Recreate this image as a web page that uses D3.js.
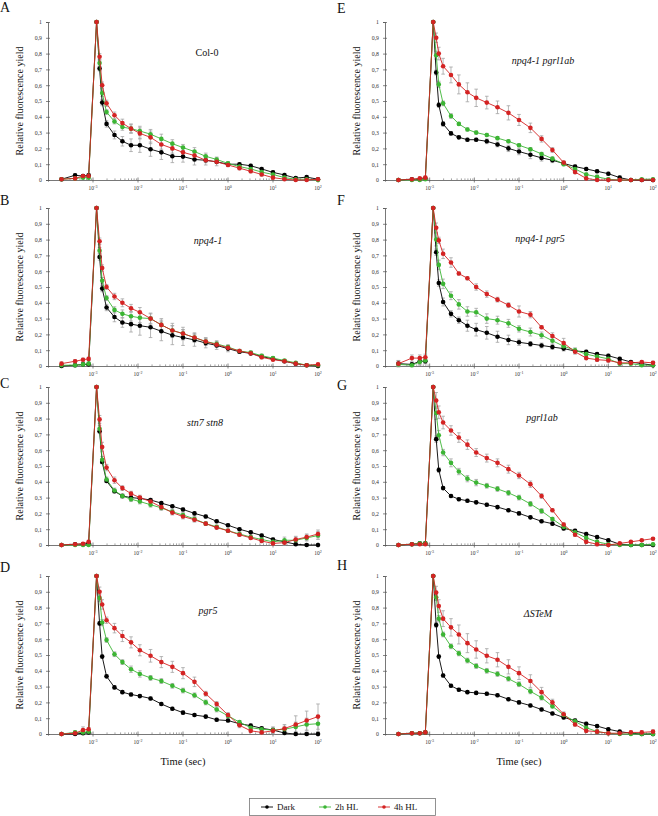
<!DOCTYPE html>
<html>
<head>
<meta charset="utf-8">
<script src="https://cdn.jsdelivr.net/npm/d3@7"></script>
<style>
  body { margin: 0; background: #fff; }
  svg { display: block; }
  svg text { font-family: "Liberation Serif", "Times New Roman", serif; }
</style>
</head>
<body>
<svg id="chart" width="658" height="816"></svg>
<script>
// time points (sec), shared by every panel
const times = [0.0002, 0.0004, 0.0006, 0.0008, 0.0012, 0.0014, 0.0016, 0.002, 0.003, 0.0045,
  0.007, 0.011, 0.019, 0.033, 0.058, 0.1, 0.18, 0.32, 0.56, 1, 1.8, 3.2, 5.6, 10, 18, 32, 56, 100];
const yTicks = [0, 0.1, 0.2, 0.3, 0.4, 0.5, 0.6, 0.7, 0.8, 0.9, 1];
const xTickExponents = [-3, -2, -1, 0, 1, 2];
const seriesNames = ["Dark", "2h HL", "4h HL"];

// A  Col-0
const colDark = [0.005,0.03,0.025,0.03,1, 0.705,0.49,0.355,0.285,0.245,0.22,0.22,0.195,0.175,0.15,0.148,0.13,0.125,0.115,0.1,0.1,0.09,0.07,0.048,0.032,0.012,0.018,0.005];
const colHL2 = [0.005,0.01,0.015,0.015,1, 0.74,0.55,0.43,0.37,0.335,0.325,0.31,0.29,0.26,0.23,0.205,0.18,0.15,0.13,0.105,0.085,0.07,0.05,0.035,0.015,0.005,0.005,0];
const colHL4 = [0.005,0.01,0.025,0.025,1, 0.78,0.6,0.485,0.41,0.36,0.325,0.295,0.27,0.225,0.2,0.175,0.155,0.125,0.115,0.095,0.075,0.055,0.035,0.015,0.005,0,0,0.005];
const colDarkErr = [0.01,0.01,0.01,0.01,0, 0.015,0.02,0.02,0.025,0.03,0.04,0.045,0.045,0.045,0.04,0.035,0.035,0.03,0.025,0.015,0.01,0.01,0.01,0.01,0.01,0.01,0.01,0];
const colHL2Err = [0,0,0,0,0, 0.02,0.02,0.015,0.015,0.02,0.025,0.03,0.03,0.03,0.025,0.02,0.025,0.02,0.015,0.01,0.01,0.01,0.01,0.01,0.005,0.005,0,0];
const colHL4Err = [0,0,0,0,0, 0.02,0.02,0.02,0.02,0.025,0.03,0.035,0.04,0.03,0.03,0.025,0.02,0.015,0.01,0.01,0.01,0.01,0.01,0.005,0.005,0,0,0];

// B  npq4-1
const npqDark = [0,0.005,0.01,0.01,1, 0.69,0.49,0.37,0.31,0.275,0.265,0.255,0.245,0.22,0.195,0.18,0.165,0.145,0.13,0.11,0.09,0.08,0.06,0.045,0.03,0.015,0.005,0];
const npqHL2 = [0.005,0.005,0.01,0.015,1, 0.73,0.54,0.43,0.355,0.33,0.315,0.305,0.3,0.26,0.225,0.205,0.18,0.155,0.14,0.12,0.095,0.085,0.065,0.05,0.035,0.02,0.005,0.005];
const npqHL4 = [0.015,0.03,0.04,0.045,1, 0.79,0.62,0.5,0.44,0.4,0.365,0.34,0.3,0.26,0.225,0.205,0.18,0.155,0.135,0.115,0.095,0.08,0.055,0.04,0.03,0.015,0.005,0.01];
const npqDarkErr = [0.01,0.01,0.01,0.01,0, 0.02,0.02,0.02,0.03,0.03,0.05,0.06,0.065,0.06,0.06,0.05,0.04,0.03,0.025,0.02,0.01,0.01,0.01,0.01,0.01,0.005,0,0];
const npqHL2Err = [0.005,0.005,0.01,0.01,0, 0.02,0.02,0.015,0.02,0.025,0.03,0.03,0.035,0.04,0.045,0.04,0.03,0.025,0.02,0.015,0.01,0.01,0.01,0.01,0.005,0.005,0,0];
const npqHL4Err = [0.01,0.01,0.01,0.01,0, 0.02,0.02,0.015,0.02,0.025,0.025,0.03,0.03,0.03,0.03,0.025,0.02,0.015,0.01,0.01,0.01,0.01,0.01,0.005,0.005,0,0,0];

// C  stn7 stn8
const stnDark = [0,0.005,0.005,0.01,1, 0.72,0.525,0.405,0.34,0.31,0.3,0.295,0.285,0.265,0.245,0.225,0.2,0.18,0.15,0.125,0.1,0.08,0.06,0.035,0.02,0.005,0,0];
const stnHL2 = [0,0,0,0,1, 0.735,0.54,0.415,0.345,0.31,0.29,0.275,0.255,0.235,0.21,0.19,0.165,0.135,0.115,0.09,0.07,0.05,0.035,0.02,0.03,0.03,0.045,0.06];
const stnHL4 = [0,0.005,0.008,0.02,1, 0.795,0.62,0.49,0.41,0.36,0.325,0.3,0.275,0.24,0.205,0.18,0.16,0.135,0.11,0.09,0.065,0.045,0.025,0.01,0.015,0.035,0.05,0.07];
const stnDarkErr = [0,0.005,0.005,0.005,0, 0.015,0.01,0.01,0.01,0.01,0.01,0.01,0.01,0.01,0.01,0.01,0.01,0.01,0.01,0.01,0.01,0.01,0.01,0.01,0.005,0.005,0,0];
const stnHL2Err = [0,0,0,0,0, 0.02,0.02,0.015,0.015,0.015,0.015,0.015,0.015,0.015,0.015,0.015,0.015,0.01,0.01,0.01,0.01,0.01,0.01,0.01,0.02,0.02,0.02,0.025];
const stnHL4Err = [0,0.005,0.005,0.01,0, 0.025,0.03,0.02,0.02,0.015,0.015,0.015,0.015,0.015,0.015,0.015,0.015,0.01,0.01,0.01,0.01,0.01,0.01,0.01,0.015,0.02,0.02,0.025];

// D  pgr5
const pgrDark = [0,0,0.005,0.01,1, 0.7,0.49,0.365,0.295,0.265,0.25,0.24,0.225,0.19,0.16,0.135,0.12,0.11,0.09,0.085,0.065,0.053,0.036,0.025,0.006,0,0,0];
const pgrHL2 = [0,0.01,0.01,0.015,1, 0.86,0.705,0.595,0.505,0.455,0.41,0.38,0.355,0.335,0.305,0.275,0.245,0.2,0.155,0.115,0.075,0.04,0.03,0.025,0.03,0.045,0.06,0.065];
const pgrHL4 = [0,0.005,0.025,0.03,1, 0.9,0.82,0.72,0.67,0.62,0.58,0.53,0.495,0.455,0.425,0.385,0.33,0.255,0.19,0.12,0.055,0.02,0.01,0.02,0.035,0.06,0.085,0.11];
const pgrDarkErr = [0,0,0.005,0.005,0, 0.01,0.01,0.01,0.01,0.01,0.01,0.01,0.01,0.01,0.01,0.01,0.01,0.01,0.01,0.01,0.01,0.01,0.01,0.01,0.01,0.01,0.01,0.01];
const pgrHL2Err = [0,0.01,0.01,0.01,0, 0.02,0.02,0.015,0.015,0.015,0.02,0.02,0.015,0.015,0.015,0.015,0.015,0.015,0.015,0.01,0.01,0.01,0.01,0.02,0.02,0.03,0.04,0.05];
const pgrHL4Err = [0,0.01,0.02,0.01,0, 0.03,0.03,0.02,0.03,0.035,0.035,0.035,0.04,0.035,0.035,0.035,0.03,0.015,0.015,0.015,0.015,0.01,0.01,0.02,0.025,0.055,0.06,0.08];

// E  npq4-1 pgrl1ab
const npqPgrlDark = [0,0.005,0.005,0.01,1, 0.68,0.475,0.355,0.295,0.27,0.255,0.255,0.245,0.225,0.2,0.18,0.16,0.14,0.125,0.105,0.085,0.07,0.055,0.04,0.015,0,0,0];
const npqPgrlHL2 = [0,0,0,0.005,1, 0.79,0.605,0.485,0.405,0.355,0.32,0.3,0.285,0.265,0.245,0.22,0.195,0.165,0.135,0.1,0.07,0.035,0.02,0.005,0,0,0.005,0.005];
const npqPgrlHL4 = [0,0.005,0.01,0.015,1, 0.9,0.8,0.72,0.665,0.605,0.555,0.52,0.49,0.46,0.425,0.38,0.33,0.26,0.19,0.11,0.05,0.01,0,0,0,0,0,0];
const npqPgrlDarkErr = [0,0,0.005,0.005,0, 0.015,0.015,0.015,0.01,0.01,0.01,0.01,0.015,0.015,0.02,0.02,0.025,0.02,0.015,0.01,0.01,0.01,0.01,0.01,0.01,0.005,0,0];
const npqPgrlHL2Err = [0,0,0,0,0, 0.025,0.02,0.015,0.015,0.01,0.01,0.01,0.01,0.01,0.01,0.01,0.01,0.01,0.01,0.01,0.01,0.01,0.01,0.01,0.005,0,0,0.005];
const npqPgrlHL4Err = [0,0.005,0.005,0.01,0, 0.03,0.04,0.05,0.05,0.06,0.06,0.055,0.04,0.04,0.045,0.035,0.03,0.02,0.015,0.01,0.01,0.005,0,0,0,0,0,0];

// F  npq4-1 pgr5
const npqPgrDark = [0.015,0.01,0.03,0.03,1, 0.72,0.525,0.405,0.33,0.29,0.255,0.23,0.21,0.185,0.165,0.15,0.14,0.13,0.12,0.11,0.095,0.09,0.075,0.065,0.045,0.025,0.015,0.005];
const npqPgrHL2 = [0.01,0.005,0.025,0.035,1, 0.8,0.64,0.52,0.445,0.39,0.345,0.34,0.3,0.29,0.27,0.235,0.215,0.195,0.16,0.125,0.1,0.075,0.06,0.045,0.015,0.015,0.005,0.005];
const npqPgrHL4 = [0.015,0.05,0.05,0.055,1, 0.875,0.795,0.71,0.655,0.585,0.555,0.5,0.455,0.42,0.385,0.345,0.325,0.245,0.19,0.145,0.09,0.05,0.04,0.035,0.02,0.02,0.025,0.02];
const npqPgrDarkErr = [0.02,0.01,0.02,0.015,0, 0.02,0.02,0.025,0.02,0.02,0.035,0.04,0.04,0.035,0.03,0.02,0.015,0.015,0.015,0.015,0.01,0.01,0.01,0.01,0.01,0.005,0.005,0];
const npqPgrHL2Err = [0.01,0.01,0.02,0.02,0, 0.04,0.03,0.03,0.025,0.03,0.03,0.025,0.03,0.025,0.025,0.02,0.025,0.02,0.02,0.015,0.015,0.01,0.01,0.01,0.01,0.005,0.005,0];
const npqPgrHL4Err = [0.02,0.02,0.02,0.02,0, 0.03,0.02,0.03,0.03,0.01,0.01,0.02,0.02,0.015,0.015,0.035,0.02,0.01,0.02,0.03,0.015,0.01,0.01,0.01,0.01,0.01,0.01,0.01];

// G  pgrl1ab
const pgrlDark = [0,0.005,0.01,0.01,1, 0.67,0.475,0.36,0.31,0.29,0.28,0.27,0.255,0.24,0.22,0.2,0.175,0.15,0.135,0.105,0.09,0.07,0.05,0.03,0.005,0,0,0];
const pgrlHL2 = [0,0.005,0.01,0.01,1, 0.835,0.695,0.585,0.52,0.465,0.42,0.395,0.375,0.355,0.33,0.3,0.26,0.215,0.165,0.115,0.08,0.045,0.02,0.005,0,0,0,0.005];
const pgrlHL4 = [0,0.005,0.005,0.005,1, 0.915,0.84,0.775,0.725,0.68,0.635,0.585,0.55,0.52,0.48,0.44,0.385,0.31,0.22,0.13,0.065,0.02,0.005,0,0.01,0.02,0.03,0.04];
const pgrlDarkErr = [0,0.005,0.005,0.005,0, 0.02,0.015,0.01,0.01,0.01,0.01,0.01,0.01,0.01,0.01,0.01,0.01,0.01,0.01,0.01,0.01,0.01,0.01,0.01,0.005,0,0,0];
const pgrlHL2Err = [0,0.005,0.005,0.005,0, 0.04,0.03,0.02,0.025,0.02,0.02,0.02,0.015,0.015,0.015,0.015,0.015,0.015,0.01,0.01,0.01,0.01,0.01,0.01,0.005,0,0,0.005];
const pgrlHL4Err = [0,0.005,0.005,0.005,0, 0.05,0.04,0.04,0.03,0.03,0.03,0.025,0.025,0.025,0.025,0.02,0.02,0.015,0.01,0.01,0.01,0.01,0.01,0.005,0.005,0.005,0.005,0.005];

// H  ΔSTeM
const stemDark = [0,0.005,0.005,0.01,1, 0.69,0.49,0.37,0.305,0.28,0.265,0.26,0.255,0.245,0.22,0.2,0.18,0.155,0.13,0.105,0.085,0.065,0.05,0.03,0.015,0.005,0,0];
const stemHL2 = [0,0.005,0.005,0.01,1, 0.865,0.73,0.63,0.555,0.51,0.465,0.43,0.4,0.38,0.35,0.315,0.27,0.23,0.175,0.12,0.08,0.04,0.015,0.005,0,0,0,0];
const stemHL4 = [0,0.005,0.005,0.01,1, 0.895,0.81,0.73,0.675,0.63,0.575,0.535,0.495,0.47,0.425,0.385,0.335,0.265,0.2,0.125,0.06,0.02,0.015,0.005,0.005,0.01,0.01,0.015];
const stemDarkErr = [0,0.005,0.005,0.005,0, 0.015,0.01,0.01,0.01,0.01,0.01,0.01,0.01,0.01,0.01,0.01,0.01,0.01,0.01,0.01,0.01,0.01,0.01,0.01,0.005,0,0,0];
const stemHL2Err = [0,0.005,0.005,0.005,0, 0.02,0.02,0.015,0.015,0.015,0.015,0.015,0.015,0.015,0.015,0.015,0.015,0.015,0.01,0.01,0.01,0.01,0.01,0.01,0.005,0,0.01,0.01];
const stemHL4Err = [0,0.005,0.005,0.005,0, 0.04,0.04,0.05,0.055,0.06,0.06,0.055,0.045,0.045,0.045,0.04,0.04,0.03,0.02,0.015,0.01,0.01,0.01,0.005,0.005,0.01,0.01,0.01];

const colors = ["#000000", "#3cb534", "#d42323"];
const errColor = "#a3a3a3";
const serif = "Liberation Serif, Times New Roman, serif";

// layout of the 2 x 4 grid
const columns = [{ x0: 48, x1: 318 }, { x0: 385, x1: 653 }];
const rowTops = [22, 208, 387, 576];
const plotH = 158;

const panels = [
  { letter: "A", title: "Col-0", italic: false, col: 0, row: 0, tx: 207, ty: 34, lx: 0, ly: 12,
    values: [colDark, colHL2, colHL4], errors: [colDarkErr, colHL2Err, colHL4Err] },
  { letter: "B", title: "npq4-1", italic: true, col: 0, row: 1, tx: 208, ty: 36, lx: 0, ly: 205,
    values: [npqDark, npqHL2, npqHL4], errors: [npqDarkErr, npqHL2Err, npqHL4Err] },
  { letter: "C", title: "stn7 stn8", italic: true, col: 0, row: 2, tx: 205, ty: 39, lx: 0, ly: 388,
    values: [stnDark, stnHL2, stnHL4], errors: [stnDarkErr, stnHL2Err, stnHL4Err] },
  { letter: "D", title: "pgr5", italic: true, col: 0, row: 3, tx: 208, ty: 38, lx: 0, ly: 572,
    values: [pgrDark, pgrHL2, pgrHL4], errors: [pgrDarkErr, pgrHL2Err, pgrHL4Err] },
  { letter: "E", title: "npq4-1 pgrl1ab", italic: true, col: 1, row: 0, tx: 543, ty: 42, lx: 337, ly: 13,
    values: [npqPgrlDark, npqPgrlHL2, npqPgrlHL4], errors: [npqPgrlDarkErr, npqPgrlHL2Err, npqPgrlHL4Err] },
  { letter: "F", title: "npq4-1 pgr5", italic: true, col: 1, row: 1, tx: 540, ty: 34, lx: 337, ly: 205,
    values: [npqPgrDark, npqPgrHL2, npqPgrHL4], errors: [npqPgrDarkErr, npqPgrHL2Err, npqPgrHL4Err] },
  { letter: "G", title: "pgrl1ab", italic: true, col: 1, row: 2, tx: 542, ty: 34, lx: 337, ly: 390,
    values: [pgrlDark, pgrlHL2, pgrlHL4], errors: [pgrlDarkErr, pgrlHL2Err, pgrlHL4Err] },
  { letter: "H", title: "\u0394STeM", italic: true, col: 1, row: 3, tx: 538, ty: 41, lx: 337, ly: 570,
    values: [stemDark, stemHL2, stemHL4], errors: [stemDarkErr, stemHL2Err, stemHL4Err] }
];

const svg = d3.select("#chart");
svg.append("rect").attr("width", 658).attr("height", 816).attr("fill", "#fff");

const fmt = v => v === 0 ? "0" : v === 1 ? "1" : d3.format(".1f")(v).replace(".", ",");

panels.forEach(p => {
  const c = columns[p.col];
  const top = rowTops[p.row];

  const x = d3.scaleLog().domain([1e-4, 1e2]).range([c.x0, c.x1]);
  const y = d3.scaleLinear().domain([0, 1]).range([top + plotH, top]);

  const g = svg.append("g");

  // panel letter
  svg.append("text")
    .attr("x", p.lx)
    .attr("y", p.ly)
    .attr("font-family", serif)
    .attr("font-size", 14)
    .attr("fill", "#111")
    .text(p.letter);

  // y axis
  const yAxis = d3.axisLeft(y)
    .tickValues(yTicks)
    .tickSize(2)
    .tickFormat(fmt);
  const ya = g.append("g")
    .attr("transform", "translate(" + c.x0 + ",0)")
    .call(yAxis)
    .attr("font-family", serif);
  ya.select(".domain").attr("stroke", "#555").attr("stroke-width", 0.8);
  ya.selectAll(".tick line").attr("x2", 2).attr("x1", -2).attr("stroke", "#555").attr("stroke-width", 0.7);
  ya.selectAll(".tick text")
    .attr("x", -6)
    .attr("font-size", 5.8)
    .attr("fill", "#333");

  // x axis with log minor ticks
  const minor = [];
  for (let e = -4; e < 2; e++) {
    for (let m = 2; m <= 9; m++) minor.push(m * Math.pow(10, e));
  }
  const xa = g.append("g")
    .attr("transform", "translate(0," + (top + plotH) + ")")
    .call(d3.axisBottom(x).tickValues(minor).tickSize(1.6).tickFormat(""));
  xa.select(".domain").attr("stroke", "#555").attr("stroke-width", 0.8);
  xa.selectAll(".tick line").attr("y1", -1.6).attr("y2", 0).attr("stroke", "#666").attr("stroke-width", 0.6);

  const major = xTickExponents.map(e => Math.pow(10, e));
  g.selectAll(".major")
    .data(major)
    .enter()
    .append("line")
    .attr("x1", d => x(d))
    .attr("x2", d => x(d))
    .attr("y1", top + plotH - 2.5)
    .attr("y2", top + plotH + 2.5)
    .attr("stroke", "#555")
    .attr("stroke-width", 0.7);

  const lbl = g.selectAll(".xlabel")
    .data(xTickExponents)
    .enter()
    .append("text")
    .attr("x", d => x(Math.pow(10, d)))
    .attr("y", top + plotH + 10)
    .attr("font-family", serif)
    .attr("font-size", 5.5)
    .attr("fill", "#333")
    .style("text-anchor", "middle");
  lbl.append("tspan").text("10");
  lbl.append("tspan")
    .attr("dy", -2.5)
    .attr("font-size", 4)
    .text(d => d);

  // axis title
  svg.append("text")
    .attr("transform", "rotate(-90)")
    .attr("x", -(top + plotH / 2))
    .attr("y", c.x0 - 25)
    .attr("font-family", serif)
    .attr("font-size", 10)
    .attr("fill", "#111")
    .style("text-anchor", "middle")
    .text("Relative fluorescence yield");

  // genotype title
  svg.append("text")
    .attr("x", p.tx)
    .attr("y", top + p.ty)
    .attr("font-family", serif)
    .attr("font-size", 10)
    .attr("fill", "#111")
    .style("font-style", p.italic ? "italic" : "normal")
    .style("text-anchor", "middle")
    .text(p.title);

  const line = d3.line()
    .x(d => x(d.t))
    .y(d => y(d.v));

  // error bars first, then series in order Dark, 2h HL, 4h HL
  p.values.forEach((vals, si) => {
    const pts = vals.map((v, i) => ({ t: times[i], v: v, e: p.errors[si][i] }))
      .filter(d => d.e > 0);
    const eb = g.append("g");
    eb.selectAll("line.v")
      .data(pts)
      .enter()
      .append("line")
      .attr("x1", d => x(d.t))
      .attr("x2", d => x(d.t))
      .attr("y1", d => y(d.v - d.e))
      .attr("y2", d => y(d.v + d.e))
      .attr("stroke", errColor)
      .attr("stroke-width", 0.8);
    ["top", "bottom"].forEach(k => {
      eb.selectAll("line." + k)
        .data(pts)
        .enter()
        .append("line")
        .attr("x1", d => x(d.t) - 1.8)
        .attr("x2", d => x(d.t) + 1.8)
        .attr("y1", d => y(k === "top" ? d.v + d.e : d.v - d.e))
        .attr("y2", d => y(k === "top" ? d.v + d.e : d.v - d.e))
        .attr("stroke", errColor)
        .attr("stroke-width", 0.8);
    });
  });

  p.values.forEach((vals, si) => {
    const pts = vals.map((v, i) => ({ t: times[i], v: v }));
    g.append("path")
      .datum(pts)
      .attr("d", line)
      .attr("fill", "none")
      .attr("stroke", colors[si])
      .attr("stroke-width", 0.9);
    g.append("g")
      .selectAll("circle")
      .data(pts)
      .enter()
      .append("circle")
      .attr("cx", d => x(d.t))
      .attr("cy", d => y(d.v))
      .attr("r", 2.3)
      .attr("fill", colors[si]);
  });

  if (p.row === 3) {
    svg.append("text")
      .attr("x", (c.x0 + c.x1) / 2)
      .attr("y", 765)
      .attr("font-family", serif)
      .attr("font-size", 10.5)
      .attr("fill", "#111")
      .style("text-anchor", "middle")
      .text("Time (sec)");
  }
});

// legend
const legendX = [261, 319, 378];
const legend = svg.append("g");
legend.append("rect")
  .attr("x", 249.5)
  .attr("y", 798.5)
  .attr("width", 186)
  .attr("height", 17)
  .attr("fill", "#fff")
  .attr("stroke", "#777")
  .attr("stroke-width", 0.8);
seriesNames.forEach((name, i) => {
  legend.append("line")
    .attr("x1", legendX[i])
    .attr("x2", legendX[i] + 12)
    .attr("y1", 807)
    .attr("y2", 807)
    .attr("stroke", colors[i])
    .attr("stroke-width", 0.9);
  legend.append("circle")
    .attr("cx", legendX[i] + 6)
    .attr("cy", 807)
    .attr("r", 1.8)
    .attr("fill", colors[i]);
  legend.append("text")
    .attr("x", legendX[i] + 16)
    .attr("y", 810)
    .attr("font-family", serif)
    .attr("font-size", 9)
    .attr("fill", "#111")
    .text(name);
});
</script>
</body>
</html>
